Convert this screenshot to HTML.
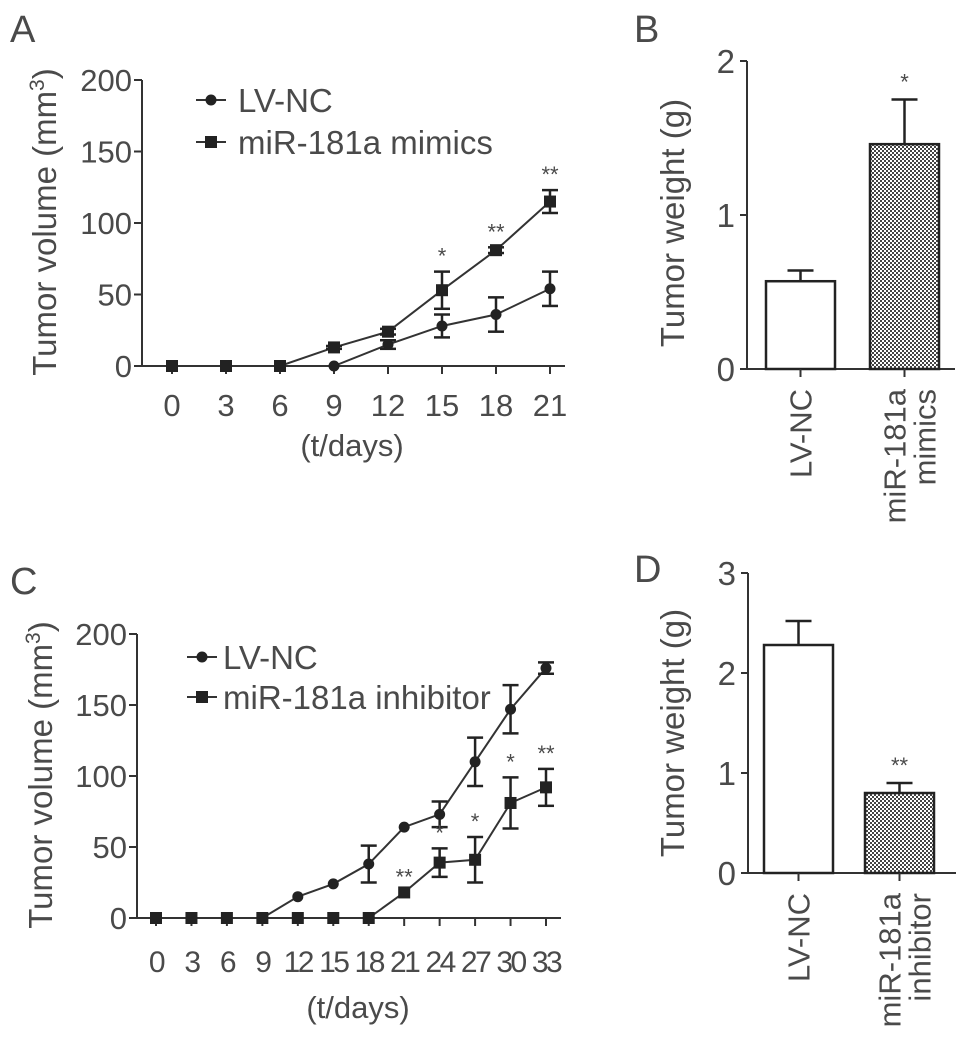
<!DOCTYPE html>
<html><head><meta charset="utf-8"><style>
html,body{margin:0;padding:0;background:#fff;}
svg{display:block;font-family:"Liberation Sans",Arial,sans-serif;}
text{fill:#4a4a4a;}
</style></head><body>
<svg id="fig" width="969" height="1058" viewBox="0 0 969 1058" xmlns="http://www.w3.org/2000/svg">
<defs>
<pattern id="dots" width="4" height="4" patternUnits="userSpaceOnUse">
<rect width="4" height="4" fill="#fff"/><rect width="2" height="2" fill="#444"/><rect x="2" y="2" width="2" height="2" fill="#444"/>
</pattern>
</defs>
<g id="root"></g>
</svg>
<script>
// Panel A data
const aDays = [0,3,6,9,12,15,18,21];
const aNC = [0,0,0,0,15,28,36,54];
const aNCErr = [0,0,0,0,3,8,12,12];
const aMim = [0,0,0,13,24,53,81,115];
const aMimErr = [0,0,0,1,2,13,2,8];
const aStars = ["","","","","","*","**","**"];
const aYTicks = [0,50,100,150,200];
// Panel C data
const cDays = [0,3,6,9,12,15,18,21,24,27,30,33];
const cNC = [0,0,0,0,15,24,38,64,73,110,147,176];
const cNCErr = [0,0,0,0,0,0,13,0,9,17,17,4];
const cInh = [0,0,0,0,0,0,0,18,39,41,81,92];
const cInhErr = [0,0,0,0,0,0,0,0,10,16,18,13];
const cStars = ["","","","","","","","**","*","*","*","**"];
const cYTicks = [0,50,100,150,200];
// Panel B data
const bCats = ["LV-NC","miR-181a mimics"];
const bVals = [0.57,1.46];
const bErrs = [0.07,0.29];
const bStars = ["","*"];
const bYTicks = [0,1,2];
// Panel D data
const dCats = ["LV-NC","miR-181a inhibitor"];
const dVals = [2.28,0.8];
const dErrs = [0.24,0.1];
const dStars = ["","**"];
const dYTicks = [0,1,2,3];

const NS="http://www.w3.org/2000/svg";
const root=document.getElementById('root');
function mk(tag,attrs,parent,txt){const e=document.createElementNS(NS,tag);for(const k in attrs)e.setAttribute(k,attrs[k]);if(txt!==undefined)e.textContent=txt;(parent||root).appendChild(e);return e;}
const LC="#333";

function lineChart(o){
  const g=mk('g',{});
  
  
  const xs=v=>o.x0+(v-o.days[0])/(o.days[o.days.length-1]-o.days[0])*(o.x1-o.x0);
  const ys=v=>o.y0-v/o.yMax*(o.y0-o.yTop);
  const L=mk('text',{x:o.letterX,y:o.letterY,'font-size':38},g,o.letter);
  
  
  const ya=mk('g',{},g);
  
  
  mk('line',{x1:o.ax,y1:o.yTop,x2:o.ax,y2:o.y0,stroke:LC,'stroke-width':2},ya);
  o.yTicks.forEach(t=>{const y=ys(t);mk('line',{x1:o.ax-8,y1:y,x2:o.ax,y2:y,stroke:LC,'stroke-width':2},ya);
    const tl=mk('text',{x:o.ax-10,y:y+11,'font-size':31,'text-anchor':'end'},ya,t);
    
    });
  const yt=mk('text',{transform:`translate(${o.ytX},${o.ytY}) rotate(-90)`,'font-size':33,'text-anchor':'middle'},g);
  
  
  mk('tspan',{},yt,'Tumor volume (mm');mk('tspan',{'font-size':21,dy:-12},yt,'3');mk('tspan',{dy:12},yt,')');
  const xa=mk('g',{},g);
  
  
  mk('line',{x1:o.ax-8,y1:o.y0,x2:o.x1+15,y2:o.y0,stroke:LC,'stroke-width':2},xa);
  o.days.forEach(d=>{const x=xs(d);mk('line',{x1:x,y1:o.y0,x2:x,y2:o.y0+8,stroke:LC,'stroke-width':2},xa);
    const tl=mk('text',{x:x,y:o.y0+o.tickDy,'font-size':o.tickFs,'text-anchor':'middle','letter-spacing':o.ls||0},xa,d);
    
    });
  const xt=mk('text',{x:o.xtX,y:o.xtY,'font-size':31,'text-anchor':'middle'},g,'(t/days)');
  
  
  o.series.forEach(s=>{
    const sg=mk('g',{},g);
    
    
    mk('polyline',{points:o.days.map((d,i)=>xs(d)+','+ys(s.vals[i])).join(' '),fill:'none',stroke:LC,'stroke-width':2},sg);
    o.days.forEach((d,i)=>{const x=xs(d),y=ys(s.vals[i]),e=s.errs[i];
      if(e>0){const y1=ys(s.vals[i]+e),y2=ys(s.vals[i]-e);
        mk('line',{x1:x,y1:y1,x2:x,y2:y2,stroke:'#222','stroke-width':2.5},sg);
        mk('line',{x1:x-8,y1:y1,x2:x+8,y2:y1,stroke:'#222','stroke-width':2.5},sg);
        mk('line',{x1:x-8,y1:y2,x2:x+8,y2:y2,stroke:'#222','stroke-width':2.5},sg);}
      let m;
      if(s.sq) m=mk('rect',{x:x-6,y:y-6,width:12,height:12,fill:'#222'},sg);
      else m=mk('circle',{cx:x,cy:y,r:5.5,fill:'#222'},sg);
      
      
      if(s.stars&&s.stars[i]){const st=mk('text',{x:x,y:ys(s.vals[i]+e)-8,'font-size':22,'text-anchor':'middle'},sg,s.stars[i]);
        
        }
    });
  });
  const lg=mk('g',{},g);
  
  
  o.series.forEach((s,i)=>{const y=o.legY+i*o.legDy;
    const le=mk('g',{},lg);
    
    
    mk('line',{x1:o.legX,y1:y,x2:o.legX+30,y2:y,stroke:LC,'stroke-width':2},le);
    if(s.sq) mk('rect',{x:o.legX+9,y:y-6,width:12,height:12,fill:'#222'},le); else mk('circle',{cx:o.legX+15,cy:y,r:5.5,fill:'#222'},le);
    mk('text',{x:o.legX+o.legTx,y:y+12,'font-size':33},le,s.label);});
}

lineChart({name:'panel-a-line-chart',letter:'A',letterX:10,letterY:42,days:aDays,x0:172,x1:550,y0:366,yTop:80,yMax:200,ax:142,yTicks:aYTicks,
  ytX:56,ytY:222,xtX:352,xtY:456,tickFs:31,tickDy:50,legX:196,legY:100,legDy:42,legTx:42,
  series:[{name:'series-lv-nc',label:'LV-NC',vals:aNC,errs:aNCErr,sq:false},{name:'series-mir-181a-mimics',label:'miR-181a mimics',vals:aMim,errs:aMimErr,sq:true,stars:aStars}]});
lineChart({name:'panel-c-line-chart',letter:'C',letterX:10,letterY:594,days:cDays,x0:156,x1:546,y0:918,yTop:634,yMax:200,ax:137,yTicks:cYTicks,
  ytX:52,ytY:775,xtX:358,xtY:1018,tickFs:30,tickDy:54,ls:-2.5,legX:187,legY:657,legDy:40,legTx:36,
  series:[{name:'series-lv-nc',label:'LV-NC',vals:cNC,errs:cNCErr,sq:false},{name:'series-mir-181a-inhibitor',label:'miR-181a inhibitor',vals:cInh,errs:cInhErr,sq:true,stars:cStars}]});

function barChart(o){
  const g=mk('g',{});
  
  
  const ys=v=>o.y0-v/o.yMax*(o.y0-o.yTop);
  const L=mk('text',{x:o.letterX,y:o.letterY,'font-size':38},g,o.letter);
  
  
  const ya=mk('g',{},g);
  
  
  mk('line',{x1:o.ax,y1:o.yTop,x2:o.ax,y2:o.y0,stroke:LC,'stroke-width':2},ya);
  o.yTicks.forEach(t=>{const y=ys(t);mk('line',{x1:o.ax-7,y1:y,x2:o.ax,y2:y,stroke:LC,'stroke-width':2},ya);
    const tl=mk('text',{x:o.ax-12,y:y+12,'font-size':33,'text-anchor':'end'},ya,t);
    
    });
  const yt=mk('text',{transform:`translate(${o.ytX},${o.ytY}) rotate(-90)`,'font-size':33,'text-anchor':'middle'},g,'Tumor weight (g)');
  
  
  mk('line',{x1:o.ax-7,y1:o.y0,x2:o.ax+208,y2:o.y0,stroke:LC,'stroke-width':2},g);
  o.cats.forEach((c,i)=>{const x=o.bx[i],w=69,cx=x+w/2,top=ys(o.vals[i]),et=ys(o.vals[i]+o.errs[i]);
    const b=mk('rect',{x:x,y:top,width:w,height:o.y0-top,fill:i?'url(#dots)':'#fff',stroke:'#222','stroke-width':2.5},g);
    
    
    mk('line',{x1:cx,y1:top,x2:cx,y2:et,stroke:'#222','stroke-width':2.5},g);
    mk('line',{x1:cx-13,y1:et,x2:cx+13,y2:et,stroke:'#222','stroke-width':2.5},g);
    mk('line',{x1:cx,y1:o.y0,x2:cx,y2:o.y0+8,stroke:LC,'stroke-width':2},g);
    if(o.stars[i]){const st=mk('text',{x:cx,y:et-10,'font-size':22,'text-anchor':'middle'},g,o.stars[i]);
      
      }
    const parts=c.split(' ');
    parts.forEach((p,j)=>{
      const tx=mk('text',{transform:`translate(${parts.length>1?cx+1+j*30:cx+11},${o.y0+20}) rotate(-90)`,'font-size':31,'text-anchor':'end'},g,p);
      
      });
  });
}
barChart({name:'panel-b-bar-chart',letter:'B',letterX:634,letterY:42,cats:bCats,vals:bVals,errs:bErrs,stars:bStars,yTicks:bYTicks,yMax:2,y0:369,yTop:61,ax:747,bx:[766,870],ytX:684,ytY:223});
barChart({name:'panel-d-bar-chart',letter:'D',letterX:634,letterY:582,cats:dCats,vals:dVals,errs:dErrs,stars:dStars,yTicks:dYTicks,yMax:3,y0:873,yTop:573,ax:748,bx:[764,865],ytX:684,ytY:733});
</script>
</body></html>
